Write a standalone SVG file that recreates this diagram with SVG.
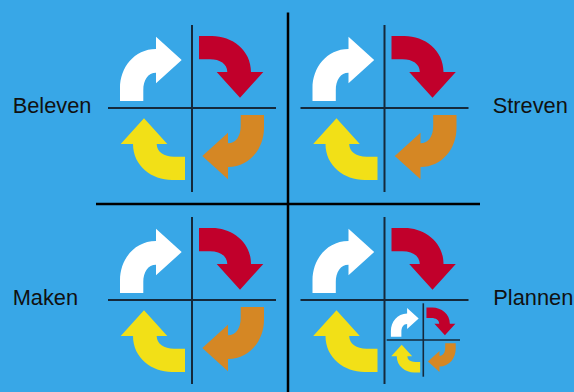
<svg xmlns="http://www.w3.org/2000/svg" xmlns:xlink="http://www.w3.org/1999/xlink" width="574" height="392" viewBox="0 0 574 392">
<style>
.bg{fill:#38A7E7}
.lbl{font-family:"Liberation Sans",Arial,sans-serif;font-size:21.8px;fill:#111111}
.q{stroke:#15293B;stroke-width:2;fill:none}
.qs{stroke:#15293B;stroke-width:1.6;fill:none}
.big{stroke:#000000;stroke-width:2.5;fill:none}
.w{fill:#FFFFFF}
.r{fill:#C1002B}
.o{fill:#D58724}
.y{fill:#F2E017}
</style>
<defs>
<path id="arr" d="M-72,-7 L-72,-20 C-72,-40 -58,-59 -36,-59 L-36,-71.3 L-10.3,-48 L-36,-24.7 L-36,-35.3 C-44,-35.3 -48.7,-28 -48.7,-18 L-48.7,-7 Z"/>
<g id="cross">
<line class="q" x1="-84" y1="0" x2="84" y2="0"/>
<line class="q" x1="0" y1="-83" x2="0" y2="84"/>
</g>
</defs>
<rect class="bg" x="0" y="0" width="574" height="392"/>
<g id="frame">
<line class="big" x1="288" y1="12.5" x2="288" y2="392"/>
<line class="big" x1="96" y1="204" x2="480" y2="204"/>
</g>
<g id="beleven">
<text class="lbl" x="12.7" y="113.3">Beleven</text>
<g transform="translate(192,108)">
<use xlink:href="#cross"/>
<use xlink:href="#arr" class="w"/>
<use xlink:href="#arr" class="r" transform="rotate(90)"/>
<use xlink:href="#arr" class="o" transform="rotate(180)"/>
<use xlink:href="#arr" class="y" transform="rotate(270)"/>
</g>
</g>
<g id="streven">
<text class="lbl" x="492.7" y="113.3">Streven</text>
<g transform="translate(384.5,108)">
<use xlink:href="#cross"/>
<use xlink:href="#arr" class="w"/>
<use xlink:href="#arr" class="r" transform="rotate(90)"/>
<use xlink:href="#arr" class="o" transform="rotate(180)"/>
<use xlink:href="#arr" class="y" transform="rotate(270)"/>
</g>
</g>
<g id="maken">
<text class="lbl" x="12.7" y="305">Maken</text>
<g transform="translate(192,300)">
<use xlink:href="#cross"/>
<use xlink:href="#arr" class="w"/>
<use xlink:href="#arr" class="r" transform="rotate(90)"/>
<use xlink:href="#arr" class="o" transform="rotate(180)"/>
<use xlink:href="#arr" class="y" transform="rotate(270)"/>
</g>
</g>
<g id="plannen">
<text class="lbl" x="493.3" y="305">Plannen</text>
<g transform="translate(384.5,300)">
<use xlink:href="#cross"/>
<use xlink:href="#arr" class="w"/>
<use xlink:href="#arr" class="r" transform="rotate(90)"/>
<use xlink:href="#arr" class="y" transform="rotate(270)"/>
</g>
<g id="plannen-nested" transform="translate(423.3,340)">
<line class="qs" x1="-36.6" y1="0" x2="36.7" y2="0"/>
<line class="qs" x1="0" y1="-36.7" x2="0" y2="36.7"/>
<g transform="scale(0.45)">
<use xlink:href="#arr" class="w"/>
<use xlink:href="#arr" class="r" transform="rotate(90)"/>
<use xlink:href="#arr" class="o" transform="rotate(180)"/>
<use xlink:href="#arr" class="y" transform="rotate(270)"/>
</g>
</g>
</g>
</svg>
